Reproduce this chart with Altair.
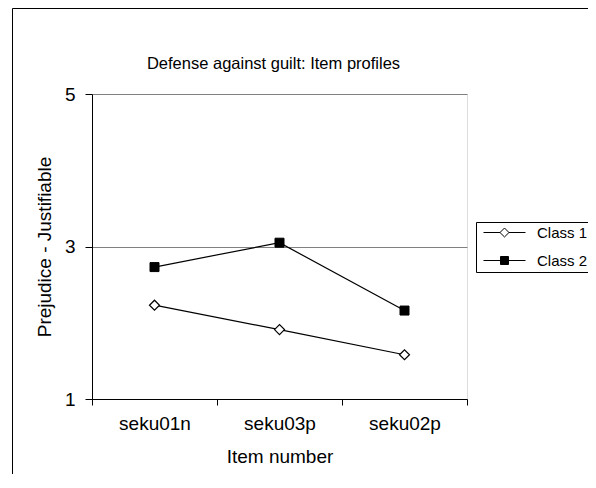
import altair as alt
import pandas as pd

items = ["seku01n", "seku03p", "seku02p"]
class_names = ["Class 1", "Class 2"]
class1 = [2.23, 1.91, 1.58]
class2 = [2.73, 3.05, 2.16]
y_ticks = [1, 3, 5]
title_text = "Defense against guilt: Item profiles"
x_title = "Item number"
y_title = "Prejudice - Justifiable"

rows = []
for name, vals in zip(class_names, [class1, class2]):
    for it, v in zip(items, vals):
        rows.append({"item": it, "cls": name, "value": v})
df = pd.DataFrame(rows)

FONT = "Liberation Sans"

x_enc = alt.X(
    "item:N", sort=items,
    scale=alt.Scale(type="band", domain=items, paddingInner=0, paddingOuter=0),
    axis=alt.Axis(title=x_title, labelAngle=0, tickBand="extent", tickSize=6,
                  labelPadding=9, titlePadding=14, grid=False,
                  domainColor="black", tickColor="black", labelColor="black",
                  titleColor="black", labelFont=FONT, titleFont=FONT,
                  labelFontSize=19, titleFontSize=19, titleFontWeight="normal"),
)
y_enc = alt.Y(
    "value:Q",
    scale=alt.Scale(domain=[1, 5], nice=False, zero=False),
    axis=alt.Axis(title=y_title, values=y_ticks, tickSize=7, labelPadding=10,
                  titlePadding=10, grid=True, gridColor="#808080",
                  domainColor="black", tickColor="black", labelColor="black",
                  titleColor="black", labelFont=FONT, titleFont=FONT,
                  labelFontSize=19, titleFontSize=19, titleFontWeight="normal"),
)

lines = alt.Chart(df).mark_line(color="black", strokeWidth=1.2).encode(
    x=x_enc, y=y_enc, detail="cls:N"
)

pts1 = alt.Chart(df).transform_filter(alt.datum.cls == class_names[0]).mark_point(
    shape="diamond", size=100, filled=True, fill="white", stroke="black",
    strokeWidth=1.2, opacity=1
).encode(x=x_enc, y=y_enc)

pts2 = alt.Chart(df).transform_filter(alt.datum.cls == class_names[1]).mark_point(
    shape="square", size=81, filled=True, fill="black", stroke="black",
    strokeWidth=1, opacity=1
).encode(x=x_enc, y=y_enc)

path1 = "M-0.43,0H1.93M3.21,0H5.57M1.93,0L2.57,-0.64L3.21,0L2.57,0.64Z"
path2 = "M-0.43,0H2M3.14,0H5.57M2,-0.57H3.14V0.57H2Z"

leg = dict(title=None, orient="none", legendX=384, legendY=128,
           strokeColor="black", fillColor="white", padding=3,
           labelFontSize=15, labelFont=FONT, labelColor="black",
           symbolSize=196, symbolStrokeColor="black", symbolStrokeWidth=1,
           symbolOpacity=1, labelOffset=43, rowPadding=12)

legend_layer = alt.Chart(df).mark_point(
    filled=True, opacity=0, strokeWidth=1
).encode(
    x=x_enc, y=y_enc,
    shape=alt.Shape("cls:N", scale=alt.Scale(domain=class_names, range=[path1, path2]),
                    legend=alt.Legend(**leg)),
    fill=alt.Fill("cls:N", scale=alt.Scale(domain=class_names, range=["white", "black"]),
                  legend=alt.Legend(**leg)),
    stroke=alt.Stroke("cls:N", scale=alt.Scale(domain=class_names, range=["black", "black"]),
                      legend=alt.Legend(**leg)),
)

frame_data = alt.Data(values=[{"k": 0}])
left_rule = alt.Chart(frame_data).mark_rule(color="black", strokeWidth=1).encode(
    x=alt.value(-79.5), y=alt.value(-85.5), y2=alt.value(420)
)
top_rule = alt.Chart(frame_data).mark_rule(color="black", strokeWidth=1).encode(
    x=alt.value(-79.5), x2=alt.value(520), y=alt.value(-85.5)
)

chart = alt.layer(left_rule, top_rule, lines, pts1, pts2, legend_layer).properties(
    width=375, height=305,
    title=alt.TitleParams(title_text, font=FONT, fontSize=16.5, fontWeight="normal",
                          color="black", offset=0, dy=64, dx=-6),
    autosize=alt.AutoSizeParams(type="none"),
    padding={"left": 84, "top": 86, "right": 121, "bottom": 75},
).configure_view(stroke="#808080", strokeWidth=1).configure(background="white")

chart.save("out.html", embed_options={"renderer": "svg", "actions": False})
